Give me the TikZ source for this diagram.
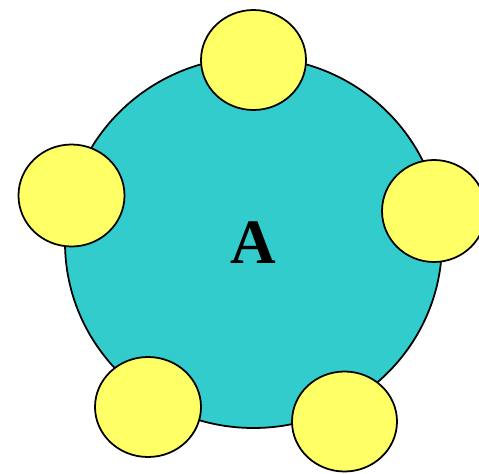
\documentclass[tikz,border=0pt]{standalone}
\usepackage{fontspec}
\setmainfont{Liberation Serif}
\definecolor{cellteal}{HTML}{33CCCC}
\definecolor{budyellow}{HTML}{FFFF66}
\tikzset{
  cell/.style={draw=black,fill=cellteal,line width=1pt},
  bud/.style={draw=black,fill=budyellow,line width=1pt},
  every node/.style={font=\bfseries\fontsize{36}{36}\selectfont}}
\begin{document}
\begin{tikzpicture}[x=0.02cm,y=-0.02cm]
\useasboundingbox (0,0) rectangle (479,473);
\clip (0,0) rectangle (479,473);
\draw[cell] (253.5,242.5) ellipse[x radius=188.5,y radius=185.5];
\node (label) at (253,243) {A};
\draw[bud] (253.5,60) ellipse[x radius=52.5,y radius=50];
\draw[bud] (71.5,195.5) ellipse[x radius=53,y radius=51];
\draw[bud] (434,211) ellipse[x radius=52,y radius=51];
\draw[bud] (148,407) ellipse[x radius=53,y radius=50];
\draw[bud] (344.5,421.5) ellipse[x radius=52.5,y radius=50];
\end{tikzpicture}
\end{document}
